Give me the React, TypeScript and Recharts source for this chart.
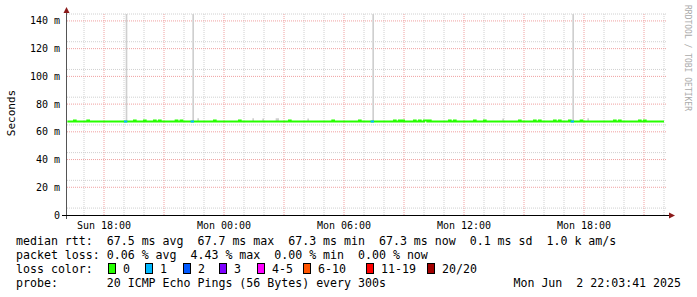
import React from "react";
import { Area, CartesianGrid, ComposedChart, Line, XAxis, YAxis } from "recharts";

// time is minutes since Sun 00:00, samples every 5 minutes
const FIRST_SAMPLE = 970;
const STEP = 5;
const X_DOMAIN = [969, 2769];
const Y_DOMAIN = [0, 145];

const xTicks = [1080, 1440, 1800, 2160, 2520];
const xTickLabels = ["Sun 18:00", "Mon 00:00", "Mon 06:00", "Mon 12:00", "Mon 18:00"];
const yTicks = [0, 20, 40, 60, 80, 100, 120, 140];

const minorY = [5, 10, 15, 25, 30, 35, 45, 50, 55, 65, 70, 75, 85, 90, 95, 105, 110, 115, 125, 130, 135, 145];
const majorY = [20, 40, 60, 80, 100, 120, 140];
const minorX = [1020, 1140, 1200, 1320, 1380, 1500, 1560, 1680, 1740, 1860, 1920, 2040, 2100, 2220, 2280, 2400, 2460, 2580, 2640, 2760];
const majorX = [1080, 1260, 1440, 1620, 1800, 1980, 2160, 2340, 2520, 2700];

// median rtt in ms, one row per hour
const medianRtt = [
  67.5, 67.5, 67.5, 67.5, 68.2, 67.5, 67.5, 67.5, 67.5, 67.5, 67.5, 67.5,
  68.2, 67.5, 67.5, 67.5, 67.5, 67.5, 67.5, 67.5, 67.5, 67.5, 67.5, 67.5,
  67.5, 67.5, 67.5, 67.5, 67.5, 67.5, 67.5, 67.5, 67.5, 67.5, 67.5, 67.5,
  67.5, 67.5, 67.5, 67.5, 68.2, 67.5, 67.5, 67.5, 67.5, 67.5, 68.2, 67.5,
  67.5, 67.5, 67.5, 67.5, 68.2, 67.5, 67.5, 68.2, 67.5, 67.5, 67.5, 67.5,
  67.5, 67.5, 67.5, 67.5, 67.5, 68.2, 67.5, 67.5, 68.2, 67.5, 67.5, 67.5,
  67.5, 67.5, 67.5, 67.5, 67.5, 67.5, 67.5, 67.5, 67.5, 67.5, 67.5, 67.5,
  67.5, 67.5, 67.5, 67.5, 68.2, 67.5, 67.5, 67.5, 67.5, 67.5, 67.5, 67.5,
  67.5, 67.5, 67.5, 67.5, 67.5, 67.5, 67.5, 68.2, 67.5, 67.5, 67.5, 67.5,
  67.5, 67.5, 67.5, 67.5, 67.5, 67.5, 67.5, 67.5, 67.5, 67.5, 67.5, 67.5,
  67.5, 67.5, 67.5, 67.5, 67.5, 67.5, 67.5, 67.5, 67.5, 67.5, 67.5, 67.5,
  67.5, 68.2, 67.5, 67.5, 67.5, 67.5, 67.5, 67.5, 67.5, 67.5, 67.5, 67.5,
  67.5, 67.5, 67.5, 67.5, 67.5, 67.5, 67.5, 67.5, 67.5, 67.5, 67.5, 67.5,
  67.5, 67.5, 67.5, 68.2, 67.5, 67.5, 67.5, 67.5, 67.5, 67.5, 67.5, 67.5,
  67.5, 67.5, 67.5, 67.5, 67.5, 67.5, 67.5, 68.2, 67.5, 67.5, 67.5, 67.5,
  67.5, 67.5, 67.5, 67.5, 67.5, 67.5, 67.5, 67.5, 67.5, 67.5, 67.5, 67.5,
  67.5, 67.5, 67.5, 67.5, 68.2, 67.5, 67.5, 68.2, 67.5, 68.2, 67.5, 67.5,
  67.5, 67.5, 67.5, 67.5, 68.2, 67.5, 67.5, 68.2, 67.5, 67.5, 68.2, 68.2,
  67.5, 68.2, 67.5, 67.5, 67.5, 67.5, 67.5, 67.5, 67.5, 67.5, 67.5, 67.5,
  67.5, 68.2, 67.5, 67.5, 68.2, 67.5, 67.5, 67.5, 67.5, 67.5, 67.5, 67.5,
  67.5, 67.5, 67.5, 67.5, 68.2, 67.5, 67.5, 67.5, 67.5, 67.5, 68.2, 67.5,
  67.5, 67.5, 67.5, 67.5, 67.5, 67.5, 67.5, 67.5, 67.5, 67.5, 67.5, 67.5,
  67.5, 67.5, 67.5, 67.5, 67.5, 67.5, 67.5, 68.2, 67.5, 67.5, 67.5, 67.5,
  67.5, 67.5, 67.5, 67.5, 68.2, 67.5, 67.5, 68.2, 67.5, 67.5, 67.5, 67.5,
  67.5, 67.5, 67.5, 67.5, 68.2, 67.5, 67.5, 68.2, 67.5, 67.5, 67.5, 67.5,
  67.5, 68.2, 67.5, 67.5, 67.5, 67.5, 67.5, 67.5, 68.2, 67.5, 67.5, 67.5,
  67.5, 67.5, 67.5, 67.5, 67.5, 67.5, 67.5, 67.5, 67.5, 67.5, 67.5, 67.5,
  67.5, 67.5, 67.5, 67.5, 68.2, 67.5, 67.5, 68.2, 67.5, 67.5, 67.5, 67.5,
  67.5, 67.5, 67.5, 67.5, 67.5, 67.5, 67.5, 68.2, 67.5, 67.5, 68.2, 67.5,
  67.5, 67.5, 67.5, 67.5, 67.5, 67.5, 67.5, 67.5, 67.5, 67.5, 67.5,
];

// samples where 1 of 20 pings was lost
const lossSamples = [34, 35, 74, 75, 182, 183, 302, 303];

// samples where the smoke (max ping) rises above the median
const smokeSamples = [35, 75, 183, 303, 78, 111, 117, 125, 126, 144, 261, 312];
const smokeTops = [150, 150, 150, 150, 69.8, 69.8, 69.6, 69.8, 69.8, 69.6, 69.6, 69.8];

const lossLabels = ["0", "1", "2", "3", "4-5", "6-10", "11-19", "20/20"];
const lossColors = ["#26ff00", "#00b8ff", "#0059ff", "#7e00ff", "#ff00ff", "#ff5500", "#ff0000", "#a10000"];
const lossLegendX = [108, 145, 183, 219, 257, 303, 366, 427];

const legendLines = [
  "median rtt:  67.5 ms avg  67.7 ms max  67.3 ms min  67.3 ms now  0.1 ms sd  1.0 k am/s",
  "packet loss: 0.06 % avg  4.43 % max  0.00 % min  0.00 % now",
  "loss color:",
  "probe:       20 ICMP Echo Pings (56 Bytes) every 300s",
];
const stamp = "Mon Jun  2 22:03:41 2025";

const data = medianRtt.map((m, i) => {
  const lost = lossSamples.includes(i) || lossSamples.includes(i - 1);
  const k = smokeSamples.indexOf(i);
  return {
    t: FIRST_SAMPLE + i * STEP,
    median: m,
    loss: lost ? m : null,
    smoke: [m, k >= 0 ? smokeTops[k] : m],
  };
});

const MONO = "DejaVu Sans Mono";
const W = 697;
const H = 297;
const LEFT = 67;
const TOP = 14;
const RIGHT = 667;
const BOTTOM = 215;

export default function App() {
  return (
    <div style={{ position: "absolute", left: 0, top: 0, width: W, height: H, background: "#fff" }}>
      <style>{"body{margin:0}"}</style>
      <ComposedChart
        width={W}
        height={H}
        data={data}
        margin={{ top: TOP, right: W - RIGHT, bottom: H - BOTTOM - 20, left: 0 }}
      >
        <CartesianGrid
          stroke="#d0d0d0"
          strokeDasharray="1 1"
          horizontalValues={minorY}
          verticalValues={minorX}
        />
        <CartesianGrid
          stroke="#f0a0a0"
          strokeDasharray="1 1"
          horizontalValues={majorY}
          verticalValues={majorX}
        />
        <XAxis
          dataKey="t"
          type="number"
          domain={X_DOMAIN}
          ticks={xTicks}
          tickFormatter={(v) => xTickLabels[xTicks.indexOf(v)]}
          height={20}
          axisLine={false}
          tickLine={false}
          tickSize={0}
          tickMargin={7}
          tick={{ fontFamily: MONO, fontSize: 10, fill: "#000" }}
          allowDataOverflow
        />
        <YAxis
          type="number"
          domain={Y_DOMAIN}
          ticks={yTicks}
          tickFormatter={(v) => (v === 0 ? "0" : `${v} m`)}
          width={LEFT}
          axisLine={false}
          tickLine={false}
          tickSize={0}
          tickMargin={7}
          tick={{ fontFamily: MONO, fontSize: 10, fill: "#000" }}
          allowDataOverflow
        />
        <Area
          dataKey="smoke"
          type="stepAfter"
          fill="#cfcfcf"
          fillOpacity={1}
          stroke="none"
          isAnimationActive={false}
        />
        <Line
          dataKey="median"
          type="stepAfter"
          stroke={lossColors[0]}
          strokeWidth={2}
          dot={false}
          activeDot={false}
          isAnimationActive={false}
        />
        <Line
          dataKey="loss"
          type="stepAfter"
          stroke={lossColors[1]}
          strokeWidth={2}
          dot={false}
          activeDot={false}
          connectNulls={false}
          isAnimationActive={false}
        />
      </ComposedChart>
      <svg
        width={W}
        height={H}
        style={{ position: "absolute", left: 0, top: 0, pointerEvents: "none" }}
        fontFamily={MONO}
      >
        <line x1={LEFT - 0.5} y1={10} x2={LEFT - 0.5} y2={BOTTOM + 4} stroke="#555" />
        <line x1={LEFT - 5} y1={BOTTOM + 0.5} x2={RIGHT + 3} y2={BOTTOM + 0.5} stroke="#000" />
        <polygon points={`${LEFT - 3.5},13 ${LEFT + 2.5},13 ${LEFT - 0.5},7`} fill="#8b1a1a" />
        <polygon points={`${RIGHT + 2},${BOTTOM - 2.5} ${RIGHT + 2},${BOTTOM + 3.5} ${RIGHT + 8},${BOTTOM + 0.5}`} fill="#8b1a1a" />
        <text x={15} y={113} transform="rotate(-90 15 113)" textAnchor="middle" fontSize={11} fill="#000">
          Seconds
        </text>
        <text x={685} y={5} transform="rotate(90 685 5)" fontSize={8} fill="#aaa">
          RRDTOOL / TOBI OETIKER
        </text>
        {legendLines.map((s, i) => (
          <text key={s} x={16} y={245 + i * 14} fontSize={11.6} fill="#000" style={{ whiteSpace: "pre" }}>
            {s}
          </text>
        ))}
        <text x={681} y={287} textAnchor="end" fontSize={11.6} fill="#000" style={{ whiteSpace: "pre" }}>
          {stamp}
        </text>
        {lossLabels.map((lab, i) => (
          <g key={lab}>
            <rect x={lossLegendX[i] + 0.5} y={263.5} width={7} height={10} fill={lossColors[i]} stroke="#000" />
            <text x={lossLegendX[i] + 15} y={273} fontSize={11.6} fill="#000">
              {lab}
            </text>
          </g>
        ))}
      </svg>
    </div>
  );
}
